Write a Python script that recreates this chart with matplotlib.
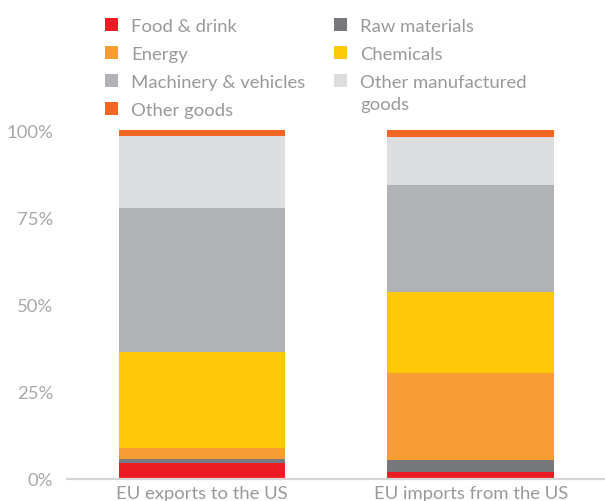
import matplotlib.pyplot as plt
from matplotlib.patches import Rectangle

# trade composition, % of total, stacked bottom to top
bars = ["EU exports to the US", "EU imports from the US"]
categories = ["Food & drink", "Raw materials", "Energy", "Chemicals",
              "Machinery & vehicles", "Other manufactured\ngoods", "Other goods"]
colors = ["#ed1c24", "#77787b", "#f79d34", "#ffc808",
          "#b1b2b5", "#dcdddf", "#f26522"]
exports = [4.6, 1.1, 3.2, 27.5, 41.3, 20.6, 1.7]
imports = [2.1, 3.4, 25.0, 23.2, 30.4, 13.9, 2.0]
yticks = [0, 25, 50, 75, 100]

W, H = 605, 502
txt = "#999999"
font = dict(family=["Lato", "DejaVu Sans"], weight="normal", fontsize=13.3)

fig = plt.figure(figsize=(W / 100, H / 100), dpi=100)
ax = fig.add_axes([67 / W, 22 / H, (W - 67) / W, 349 / H])

x = [0, 1]
bottoms = [0, 0]
for i, cat in enumerate(categories):
    vals = [exports[i], imports[i]]
    ax.bar(x, vals, bottom=bottoms, width=0.62, color=colors[i], linewidth=0)
    bottoms = [b + v for b, v in zip(bottoms, vals)]

ax.set_xlim(-0.502, 1.5)
ax.set_ylim(0, 100)
for s in ["top", "right", "left"]:
    ax.spines[s].set_visible(False)
ax.spines["bottom"].set_color("#d6d6d6")
ax.spines["bottom"].set_linewidth(1.6)

ax.set_yticks(yticks)
ax.set_yticklabels([f"{t}%" for t in yticks], color="#a8a8a8", **font)
ax.set_xticks(x)
ax.set_xticklabels(bars, color=txt, **font)
ax.tick_params(length=0)
ax.tick_params(axis="y", pad=10)
ax.tick_params(axis="x", pad=4.5)

# two-column legend drawn by hand, row-major order
for i, cat in enumerate(categories):
    col, row = i % 2, i // 2
    sx = 105 if col == 0 else 334
    cy = 25.5 + row * 28
    fig.patches.append(Rectangle((sx / W, (H - cy - 6.5) / H), 13 / W, 13 / H,
                                 transform=fig.transFigure, color=colors[i],
                                 linewidth=0))
    extra = 22 * cat.count("\n")
    fig.text((sx + 26) / W, (H - cy - 6.5 - extra) / H, cat, color=txt,
             va="baseline", ha="left", linespacing=1.45, **font)

fig.savefig("out.png", dpi=100)
